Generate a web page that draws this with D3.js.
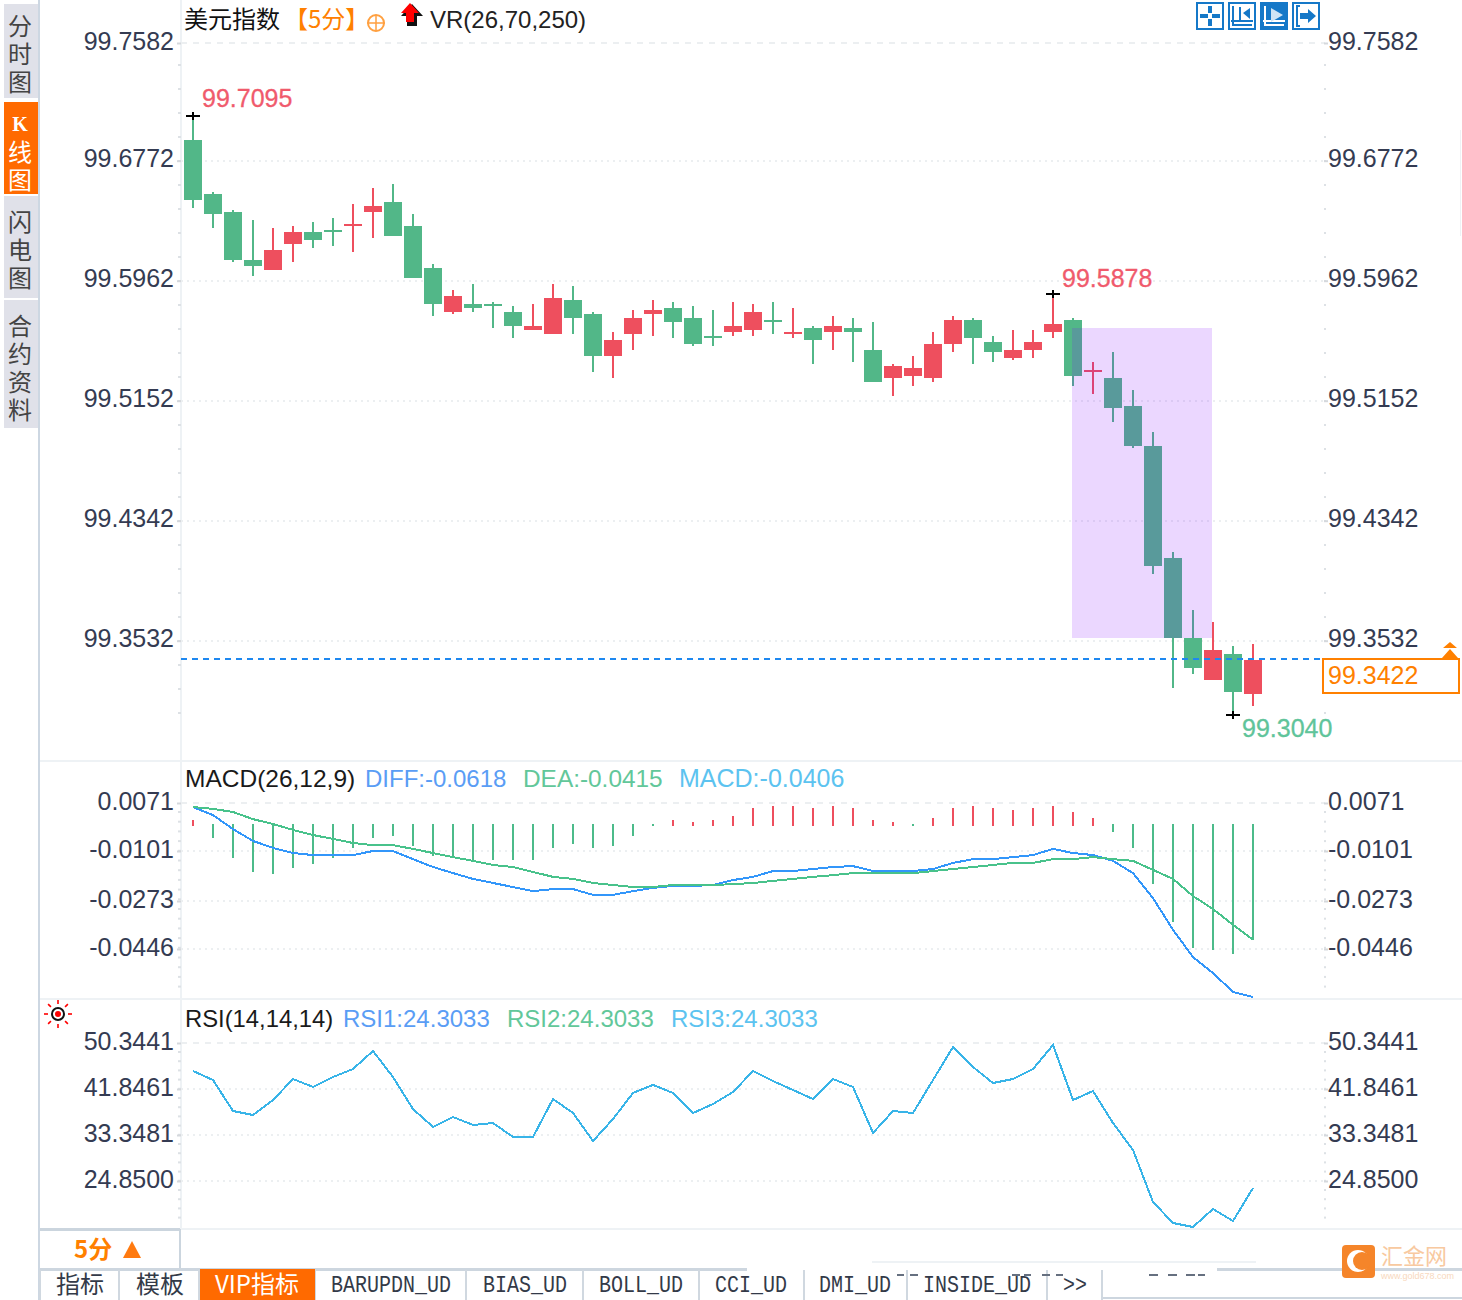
<!DOCTYPE html>
<html><head><meta charset="utf-8">
<script src="https://cdn.jsdelivr.net/npm/d3@7/dist/d3.min.js"></script>
<style>
html,body{margin:0;padding:0;background:#fff}
svg{display:block}
text{font-family:"Liberation Sans",Arial,sans-serif}
.cjk{font-family:"Noto Sans CJK SC",sans-serif}
.mono{font-family:"Liberation Mono",monospace}
</style></head><body>
<svg id="c" width="1462" height="1300"></svg>
<script>
const opens=[99.6912,99.6547,99.6426,99.6102,99.6034,99.6210,99.6291,99.6304,99.6331,99.6426,99.6493,99.6331,99.6048,99.5751,99.5805,99.5805,99.5751,99.5629,99.5602,99.5832,99.5737,99.5454,99.5602,99.5737,99.5778,99.5710,99.5589,99.5616,99.5629,99.5697,99.5602,99.5643,99.5616,99.5643,99.5494,99.5305,99.5319,99.5305,99.5535,99.5697,99.5548,99.5440,99.5494,99.5616,99.5697,99.5346,99.5305,99.5116,99.4846,99.4090,99.3550,99.3267,99.3442,99.3172];
const closes=[99.6507,99.6412,99.6102,99.6061,99.6169,99.6291,99.6237,99.6291,99.6345,99.6466,99.6264,99.5980,99.5805,99.5859,99.5778,99.5791,99.5656,99.5656,99.5845,99.5710,99.5454,99.5562,99.5710,99.5764,99.5683,99.5535,99.5575,99.5656,99.5751,99.5683,99.5616,99.5562,99.5656,99.5616,99.5278,99.5386,99.5373,99.5535,99.5697,99.5575,99.5481,99.5494,99.5548,99.5670,99.5319,99.5359,99.5103,99.4846,99.4036,99.3550,99.3348,99.3469,99.3186,99.3402];
const highs=[99.7081,99.6561,99.6439,99.6372,99.6318,99.6331,99.6358,99.6385,99.6480,99.6588,99.6615,99.6412,99.6075,99.5899,99.5940,99.5818,99.5791,99.5805,99.5940,99.5926,99.5751,99.5616,99.5764,99.5832,99.5818,99.5791,99.5764,99.5818,99.5805,99.5818,99.5778,99.5656,99.5724,99.5710,99.5683,99.5400,99.5454,99.5616,99.5724,99.5710,99.5589,99.5629,99.5629,99.5872,99.5710,99.5413,99.5481,99.5224,99.4941,99.4131,99.3739,99.3658,99.3496,99.3510];
const lows=[99.6453,99.6318,99.6088,99.5994,99.6034,99.6088,99.6183,99.6196,99.6156,99.6250,99.6264,99.5980,99.5724,99.5737,99.5751,99.5643,99.5575,99.5629,99.5602,99.5602,99.5346,99.5305,99.5494,99.5589,99.5575,99.5521,99.5521,99.5589,99.5589,99.5602,99.5575,99.5400,99.5494,99.5413,99.5278,99.5184,99.5251,99.5278,99.5481,99.5400,99.5413,99.5427,99.5440,99.5575,99.5251,99.5197,99.5008,99.4833,99.3982,99.3213,99.3307,99.3267,99.3031,99.3091];
const macdHist=[.0016,-.0050,-.0125,-.0173,-.0180,-.0159,-.0146,-.0125,-.0089,-.0050,-.0043,-.0081,-.0118,-.0118,-.0139,-.0132,-.0132,-.0132,-.0089,-.0074,-.0089,-.0081,-.0043,-.0004,.0016,.0010,.0016,.0029,.0055,.0061,.0061,.0055,.0061,.0055,.0016,.0010,-.0004,.0023,.0055,.0061,.0055,.0048,.0055,.0061,.0042,.0023,-.0027,-.0089,-.0215,-.0349,-.0442,-.0450,-.0464,-.0413];
const diff=[.0058,.0032,-.0016,-.0062,-.0089,-.0108,-.0115,-.0115,-.0115,-.0101,-.0101,-.0129,-.0156,-.0177,-.0197,-.0211,-.0225,-.0239,-.0232,-.0232,-.0252,-.0252,-.0239,-.0228,-.0221,-.0221,-.0218,-.0201,-.0190,-.0170,-.0170,-.0163,-.0156,-.0153,-.0170,-.0170,-.0170,-.0163,-.0142,-.0129,-.0129,-.0122,-.0115,-.0093,-.0108,-.0115,-.0135,-.0177,-.0263,-.0377,-.0475,-.0532,-.0600,-.0618];
const dea=[.0058,.0052,.0042,.0019,.0003,-.0019,-.0039,-.0054,-.0070,-.0078,-.0078,-.0093,-.0108,-.0122,-.0135,-.0149,-.0156,-.0173,-.0190,-.0197,-.0211,-.0218,-.0225,-.0225,-.0218,-.0218,-.0218,-.0215,-.0211,-.0204,-.0197,-.0190,-.0184,-.0177,-.0177,-.0177,-.0177,-.0170,-.0163,-.0156,-.0149,-.0142,-.0142,-.0129,-.0129,-.0122,-.0129,-.0135,-.0166,-.0197,-.0256,-.0302,-.0359,-.0413];
const rsi=[45.17,43.51,37.78,37.04,39.81,43.69,42.22,44.06,45.54,48.87,44.06,38.15,34.83,36.67,35.20,35.56,32.98,32.98,40.00,37.41,32.24,36.30,41.11,42.59,41.11,37.41,39.07,41.29,45.17,43.32,41.66,40.00,43.69,42.22,33.72,37.78,37.41,43.51,49.60,45.91,42.95,43.69,45.54,49.97,39.81,41.48,35.56,30.58,20.97,17.09,16.35,19.68,17.46,23.56];
const priceTicks=["99.7582","99.6772","99.5962","99.5152","99.4342","99.3532"];
const macdTicks=["0.0071","-0.0101","-0.0273","-0.0446"];
const rsiTicks=["50.3441","41.8461","33.3481","24.8500"];
const tabLabels=["指标","模板","VIP指标","BARUPDN_UD","BIAS_UD","BOLL_UD","CCI_UD","DMI_UD","INSIDE_UD",">>"];
const sideTabs=["分时图","线图","闪电图","合约资料"];
const lastPrice="99.3422", hiLabel="99.7095", midLabel="99.5878", loLabel="99.3040";

const GREEN="#52b788",RED="#ee4f5e",ORANGE="#ff8000",GRID="#eceff1";
const svg=d3.select("#c");
const x=d3.scaleLinear().domain([0,53]).range([193,1253]);
const yP=d3.scaleLinear().domain([99.3532,99.6772,99.7582]).range([640.7,160.7,43]);
const yM=d3.scaleLinear().domain([0.0071,0,-0.0101,-0.0273,-0.0446,-0.0618]).range([803,825,851,901,949,997]);
const yR=d3.scaleLinear().domain([50.3441,24.85]).range([1043,1181]);
const L=181,R=1325;

function hl(x1,x2,y,c,w){svg.append("rect").attr("x",x1).attr("y",y-w/2).attr("width",x2-x1).attr("height",w).attr("fill",c).attr("shape-rendering","crispEdges");}
function vl(xx,y1,y2,c,w){svg.append("rect").attr("x",xx-w/2).attr("y",y1).attr("width",w).attr("height",y2-y1).attr("fill",c).attr("shape-rendering","crispEdges");}
vl(39,0,1300,"#cdd7e2",2);
vl(181,0,1229,"#eef2f5",2);
hl(40,1462,761,"#eef2f5",2);
hl(40,1462,999,"#eef2f5",2);
hl(181,1462,1229,"#eef2f5",2);
hl(40,180,1229,"#cbd5de",3);
vl(180,1229,1268,"#cbd5de",2);
vl(1460,130,236,"#eef2f5",1);

function grid(scale,vals,first){
  vals.forEach((v,i)=>{
    svg.append("line").attr("x1",L).attr("x2",R).attr("y1",scale(v)).attr("y2",scale(v))
      .attr("stroke",GRID).attr("stroke-width",2).attr("shape-rendering","crispEdges")
      .attr("stroke-dasharray",(i==0&&first)?"6 6":"2 4");
  });
}
function axes(scale,vals,size){
  const fmt=d=>vals.find(t=>+t===d);
  const nums=vals.map(Number);
  const a=svg.append("g").attr("transform",`translate(${L},0)`).call(d3.axisLeft(scale).tickValues(nums).tickFormat(fmt).tickSize(4).tickPadding(3));
  const b=svg.append("g").attr("transform",`translate(${R-1},0)`).call(d3.axisRight(scale).tickValues(nums).tickFormat(fmt).tickSize(4).tickPadding(0));
  [a,b].forEach(g=>{g.select(".domain").remove();g.selectAll("line").attr("stroke","#d5d8dc").attr("stroke-width",2);
    g.selectAll("text").attr("font-size",size).attr("fill","#343b52").attr("font-family","Liberation Sans").attr("y",-1.8);});
}
function minor(ys){
  svg.append("g").selectAll("rect").data(ys).join("rect").attr("x",L-3).attr("y",d=>d-1).attr("width",3).attr("height",2).attr("fill","#dde1e5");
  svg.append("g").selectAll("rect").data(ys).join("rect").attr("x",R-1).attr("y",d=>d-1).attr("width",2).attr("height",2).attr("fill","#dde1e5");
}
grid(yP,priceTicks.map(Number),true);grid(yM,macdTicks.map(Number),true);grid(yR,rsiTicks.map(Number),true);
minor(d3.range(65,720,24));minor(d3.range(812,990,9.7));minor(d3.range(1052,1226,9.2));
axes(yP,priceTicks,25);axes(yM,macdTicks,25);axes(yR,rsiTicks,25);

const idx=d3.range(opens.length);
const col=i=>closes[i]>=opens[i]?RED:GREEN;
const cg=svg.append("g").attr("shape-rendering","crispEdges");
cg.selectAll(".w").data(idx).join("rect").attr("class","w").attr("x",i=>x(i)-1).attr("width",2)
  .attr("y",i=>yP(highs[i])).attr("height",i=>yP(lows[i])-yP(highs[i])).attr("fill",col);
cg.selectAll(".b").data(idx).join("rect").attr("class","b").attr("x",i=>x(i)-9).attr("width",18)
  .attr("y",i=>yP(Math.max(opens[i],closes[i]))).attr("height",i=>Math.max(2,Math.abs(yP(opens[i])-yP(closes[i])))).attr("fill",col);

svg.append("rect").attr("x",x(43.95)).attr("width",x(50.95)-x(43.95)).attr("y",yP(99.5643)).attr("height",yP(99.3550)-yP(99.5643))
  .attr("fill","rgb(130,6,255)").attr("fill-opacity",.16).attr("shape-rendering","crispEdges");

const lastY=yP(closes[closes.length-1]);
svg.append("line").attr("x1",L).attr("x2",1320).attr("y1",lastY-1).attr("y2",lastY-1).attr("stroke","#1e88f0").attr("stroke-width",2).attr("stroke-dasharray","6 5").attr("shape-rendering","crispEdges");
svg.append("rect").attr("x",1323).attr("y",659).attr("width",136).attr("height",34).attr("fill","#fff").attr("stroke",ORANGE).attr("stroke-width",2).attr("shape-rendering","crispEdges");
svg.append("text").attr("x",1328).attr("y",684).attr("font-size",25).attr("fill",ORANGE).text(lastPrice);
svg.append("path").attr("d","M1450 642l7 6h-14zM1450 649l8 9h-16z").attr("fill",ORANGE);

function marker(i,v,label,lx,ly,c){
  const yy=yP(v);
  svg.append("path").attr("d",`M${x(i)-7} ${yy}H${x(i)+7}M${x(i)} ${yy-4}V${yy+4}`).attr("stroke","#000").attr("stroke-width",2).attr("shape-rendering","crispEdges");
  svg.append("text").attr("x",lx).attr("y",ly).attr("font-size",25).attr("fill",c).attr("stroke",c).attr("stroke-width",.3).text(label);
}
marker(0,highs[0],hiLabel,202,107,"#f05a6c");
marker(43,highs[43],midLabel,1062,287,"#f05a6c");
marker(52,lows[52],loLabel,1242,737,"#5fc49a");

const mg=svg.append("g").attr("shape-rendering","crispEdges");
mg.selectAll("rect").data(macdHist).join("rect").attr("x",(d,i)=>x(i)-1).attr("width",2)
  .attr("y",d=>d>0?yM(d):yM(0)-1).attr("height",d=>Math.abs(yM(d)-yM(0))+1).attr("fill",d=>d>0?RED:"#4cbb8a");
const lineM=d3.line().x((d,i)=>x(i)).y(d=>yM(d));
svg.append("path").attr("d",lineM(diff)).attr("fill","none").attr("stroke","#3296fa").attr("stroke-width",2).attr("shape-rendering","crispEdges");
svg.append("path").attr("d",lineM(dea)).attr("fill","none").attr("stroke","#48c28b").attr("stroke-width",2).attr("shape-rendering","crispEdges");

const lineR=d3.line().x((d,i)=>x(i)).y(d=>yR(d));
svg.append("path").attr("d",lineR(rsi)).attr("fill","none").attr("stroke","#38b4e8").attr("stroke-width",2).attr("shape-rendering","crispEdges");

function t(xx,yy,s,c,fs,cls){const e=svg.append("text").attr("x",xx).attr("y",yy).attr("font-size",fs||24.5).attr("fill",c).text(s);if(cls)e.attr("class",cls);return e;}
t(185,787,"MACD(26,12,9)","#1a1a1a",24.5);
t(365,787,"DIFF:-0.0618","#5a9df5",24);
t(523,787,"DEA:-0.0415","#62c79a",24.4);
t(679,787,"MACD:-0.0406","#5cc3f0",25);
t(185,1027,"RSI(14,14,14)","#1a1a1a",23.8);
t(343,1027,"RSI1:24.3033","#5a9df5",24);
t(507,1027,"RSI2:24.3033","#62c79a",24);
t(671,1027,"RSI3:24.3033","#5cc3f0",24);

t(184,28,"美元指数","#111",24,"cjk");
t(284,28,"【5分】",ORANGE,24,"cjk");
svg.append("circle").attr("cx",376).attr("cy",23).attr("r",8).attr("fill","none").attr("stroke","#ffa040").attr("stroke-width",2);
svg.append("path").attr("d","M367 23H385M376 15V31").attr("stroke","#ffa040").attr("stroke-width",1.5);
svg.append("path").attr("d","M410 3l11 12h-6v10h-10v-10h-6z").attr("fill","#111").attr("transform","translate(2,1)");
svg.append("path").attr("d","M410 3l9 10h-5v9h-8v-9h-5z").attr("fill","#f00");
t(430,27.5,"VR(26,70,250)","#222",24);

const btnX=[1196,1228,1260,1292];
btnX.forEach((bx,i)=>{
  svg.append("rect").attr("x",bx+1).attr("y",3).attr("width",26).attr("height",26).attr("fill",i==2?"#1578c8":"#fff").attr("stroke","#1578c8").attr("stroke-width",2).attr("shape-rendering","crispEdges");
});
svg.append("path").attr("d","M1210 6V13M1210 19V26M1200 16H1208M1212 16H1220").attr("stroke","#1578c8").attr("stroke-width",4).attr("shape-rendering","crispEdges");
svg.append("path").attr("d","M1233 6V25H1252M1231 21H1253M1240 7V22").attr("stroke","#1578c8").attr("stroke-width",2).attr("fill","none");
svg.append("path").attr("d","M1243 13l7-5v11z").attr("fill","#1578c8");
svg.append("path").attr("d","M1265 6V25H1284M1263 21H1285").attr("stroke","#fff").attr("stroke-width",2).attr("fill","none");
svg.append("path").attr("d","M1271 8L1283 15L1271 22z").attr("fill","#cfe4f5");
svg.append("path").attr("d","M1300 6H1297V26H1300").attr("stroke","#1578c8").attr("stroke-width",2).attr("fill","none");
svg.append("path").attr("d","M1300 13H1308V9L1316 16L1308 23V19H1300z").attr("fill","#1578c8");

const sideY=[[4,98],[102,194],[196,298],[300,428]];
sideTabs.forEach((s,k)=>{
  const on=k==1;
  svg.append("rect").attr("x",4).attr("y",sideY[k][0]).attr("width",34).attr("height",sideY[k][1]-sideY[k][0]).attr("fill",on?"#ff6a00":"#e0e1e9");
  svg.append("text").attr("class","cjk").attr("x",20).attr("y",[14,140,210,314][k])
    .style("writing-mode","vertical-rl").style("letter-spacing","4px")
    .attr("font-size",24).attr("fill",on?"#fff":"#444").text(s);
});
svg.append("text").attr("x",20).attr("y",131).attr("text-anchor","middle").attr("font-family","Liberation Serif").attr("font-weight",700).attr("font-size",20).attr("fill","#fff").style("font-family","Liberation Serif").text("K");

svg.append("circle").attr("cx",58).attr("cy",1014).attr("r",6).attr("fill","#fff").attr("stroke","#111").attr("stroke-width",2);
svg.append("circle").attr("cx",58).attr("cy",1014).attr("r",3).attr("fill","#f00");
d3.range(8).forEach(k=>{const a=k*Math.PI/4;
  svg.append("line").attr("x1",58+10*Math.cos(a)).attr("y1",1014+10*Math.sin(a)).attr("x2",58+14*Math.cos(a)).attr("y2",1014+14*Math.sin(a)).attr("stroke","#f00").attr("stroke-width",1.6);});

t(74,1258,"5分","#ff8000",24,"cjk").attr("font-weight",700);
svg.append("path").attr("d","M132 1241L141 1258H123z").attr("fill","#ff7a10");
hl(40,747,1269,"#cdd6df",3);hl(1217,1462,1269,"#cdd6df",3);
hl(872,1256,1262,"#eef2f5",2);
hl(1102,1462,1298,"#cdd6df",2);
[40,119,199,315,466,583,699,804,907,1047,1102].forEach(s=>vl(s,1270,1300,"#d0d8e0",2));
[[897,904],[910,918],[1012,1020],[1024,1031],[1042,1050],[1056,1063],[1149,1158],[1168,1177],[1186,1195],[1198,1205]].forEach(p=>hl(p[0],p[1],1275,"#667080",2));
svg.append("rect").attr("x",200).attr("y",1269).attr("width",115).attr("height",31).attr("fill","#ff6a00");
const tabX=[80,160,257,391,525,641,751,855,977,1075];
tabLabels.forEach((s,i)=>{
  const ascii=/^[A-Z_>]+$/.test(s);
  const e=svg.append("text").attr("class",ascii?"mono":"cjk").attr("text-anchor","middle")
    .attr("font-size",ascii?20:24).attr("fill",i==2?"#fff":"#333a48").text(s);
  if(ascii)e.attr("transform",`translate(${tabX[i]},1292) scale(1,1.2)`);
  else e.attr("x",tabX[i]).attr("y",1293);
});
svg.append("rect").attr("x",1342).attr("y",1245).attr("width",33).attr("height",33).attr("rx",4).attr("fill","#f5852a");
svg.append("circle").attr("cx",1358).attr("cy",1261).attr("r",11).attr("fill","#fff");
svg.append("circle").attr("cx",1362).attr("cy",1261).attr("r",9).attr("fill","#f5852a");
t(1381,1264,"汇金网","#f8c9a0",22,"cjk");
t(1381,1279,"www.gold678.com","#f8d8bd",9);
</script>
</body></html>
